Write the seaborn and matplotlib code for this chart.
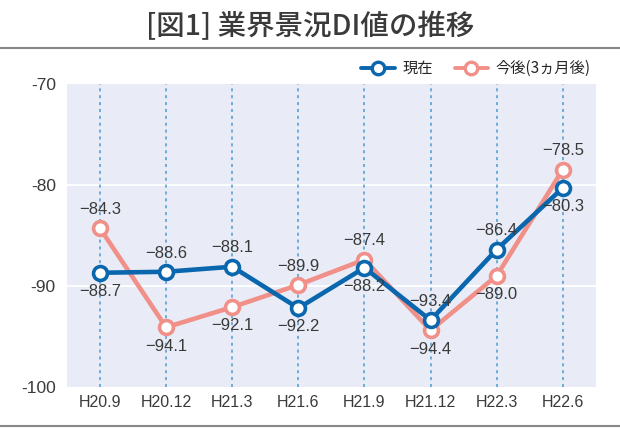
import pandas as pd
import seaborn as sns
import matplotlib.pyplot as plt
from matplotlib.lines import Line2D

# data
periods = ['H20.9', 'H20.12', 'H21.3', 'H21.6', 'H21.9', 'H21.12', 'H22.3', 'H22.6']
current = [-88.7, -88.6, -88.1, -92.2, -88.2, -93.4, -86.4, -80.3]
outlook = [-84.3, -94.1, -92.1, -89.9, -87.4, -94.4, -89.0, -78.5]
# label above (+1) or below (-1) each point
current_side = [-1, 1, 1, -1, -1, 1, 1, -1]
outlook_side = [1, -1, -1, 1, 1, -1, -1, 1]

series_names = ['現在', '今後(3ヵ月後)']
blue = '#0a67ad'
pink = '#f09088'
txt = '#3a3a3a'

sns.set_theme(style="white")
plt.rcParams['font.family'] = ['Liberation Sans', 'Noto Sans CJK JP', 'DejaVu Sans']

df = pd.DataFrame({
    'period': periods * 2,
    'value': current + outlook,
    'series': [series_names[0]] * len(periods) + [series_names[1]] * len(periods),
})

fig = plt.figure(figsize=(6.2, 4.28), dpi=100)
ax = fig.add_axes([0.108, 0.096, 0.853, 0.708])
ax.set_facecolor('#e9ecf6')

# draw pink first so blue sits on top
for name, color in [(series_names[1], pink), (series_names[0], blue)]:
    sub = df[df['series'] == name]
    sns.lineplot(data=sub, x='period', y='value', ax=ax, color=color,
                 linewidth=3.3, marker='o', markersize=10,
                 markerfacecolor='white', markeredgecolor=color,
                 markeredgewidth=2.6, sort=False, legend=False)

ax.set_ylim(-100, -70)
ax.set_xlim(-0.5, len(periods) - 0.5)
ax.set_yticks([-100, -90, -80, -70])
ax.set_yticklabels(['-100', '-90', '-80', '-70'], fontsize=12.5, color=txt)
ax.set_xticks(range(len(periods)))
ax.set_xticklabels(periods, fontsize=11.5, color=txt)
ax.tick_params(axis='y', length=0, pad=8)
ax.tick_params(axis='x', length=0, pad=6)
ax.set_xlabel('')
ax.set_ylabel('')
for s in ax.spines.values():
    s.set_visible(False)

for y in [-90, -80]:
    ax.axhline(y, color='white', linewidth=1.3, zorder=0.5)
for i in range(len(periods)):
    ax.axvline(i, color='#4a9ad4', linewidth=1.1, linestyle=(0, (2, 2.5)), zorder=0.6)

for vals, sides in [(current, current_side), (outlook, outlook_side)]:
    for i, (v, sd) in enumerate(zip(vals, sides)):
        ax.annotate(f'−{abs(v):.1f}', (i, v), xytext=(0, 13.5 * sd),
                    textcoords='offset points', ha='center', va='center',
                    fontsize=12, color=txt, zorder=5)

handles = [Line2D([], [], color=c, linewidth=2.8, marker='o', markersize=9,
                  markerfacecolor='white', markeredgewidth=2.4)
           for c in (blue, pink)]
fig.legend(handles, series_names, loc='center right', bbox_to_anchor=(0.975, 0.84),
           ncol=2, frameon=False, handlelength=2.2,
           columnspacing=1.4, handletextpad=0.5,
           prop={'family': ['Noto Sans CJK JP', 'DejaVu Sans'], 'size': 11})

fig.text(0.5, 0.937, '[図1] 業界景況DI値の推移', ha='center', va='center',
         fontsize=20.5, fontweight='medium', color=txt,
         family=['Noto Sans CJK JP', 'DejaVu Sans'])
fig.add_artist(Line2D([0, 1], [0.888, 0.888], color='#888888', linewidth=1.5))
fig.add_artist(Line2D([0, 1], [0.005, 0.005], color='#888888', linewidth=1.5))

fig.savefig('out.png', dpi=100)
